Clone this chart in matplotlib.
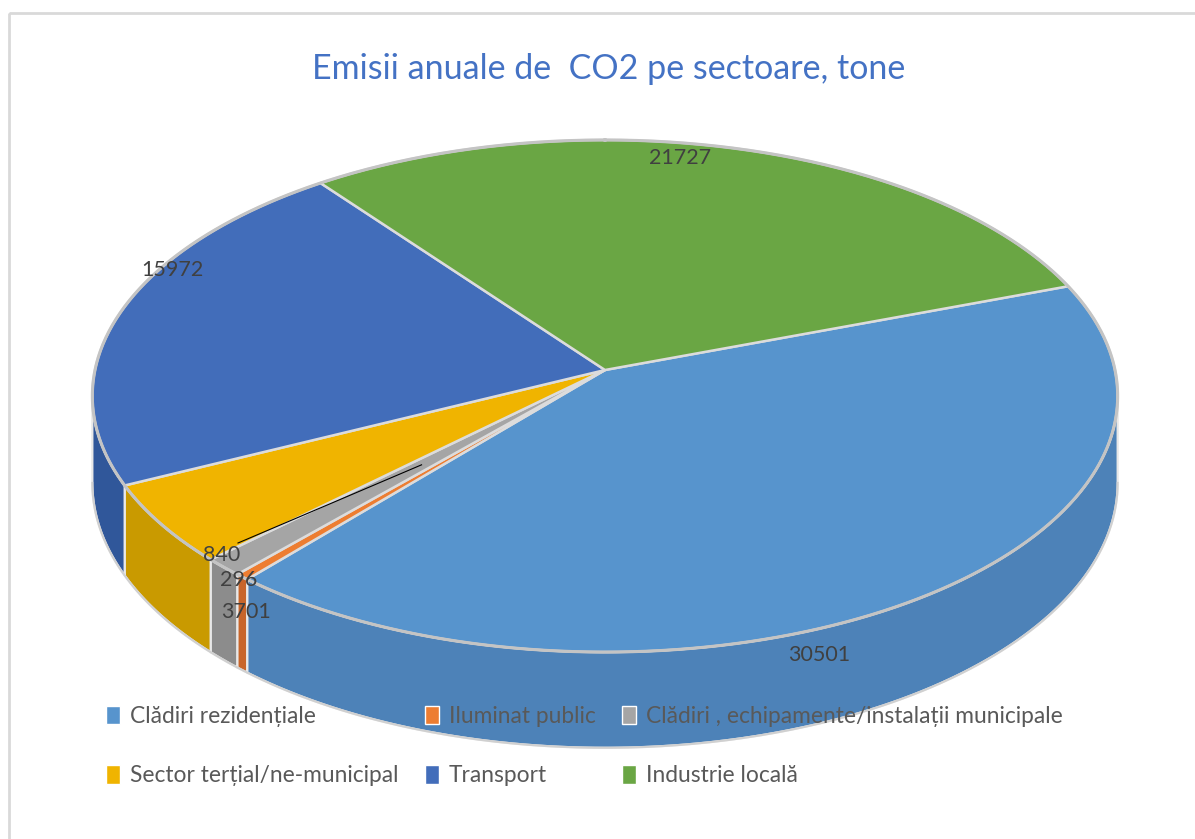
import numpy as np
import matplotlib.pyplot as plt
from matplotlib.patches import Polygon, Patch, Rectangle

plt.rcParams['font.family'] = ['Lato', 'DejaVu Sans']

# data
sectors = ['Clădiri rezidențiale', 'Iluminat public',
           'Clădiri , echipamente/instalații municipale',
           'Sector terțial/ne-municipal', 'Transport', 'Industrie locală']
values = [30501, 296, 840, 3701, 15972, 21727]
top_colors = ['#5794cd', '#ed7d31', '#a5a5a5', '#f0b400', '#426dba', '#6aa644']
side_colors = ['#4d82b8', '#c8652a', '#8c8c8c', '#c99a00', '#30579a', '#56903a']

# where the value labels sit (pixel coords of the figure)
label_pos = [(819, 655), (239, 580), (222, 555), (246, 612), (172, 270), (680, 158)]
label_text = ['30501', '296', '840', '3701', '15972', '21727']

# geometry of the tilted pie (perspective)
cx, cy = 605, 370
A, B = 510, 253.4
a = 0.1016
H = 86
start = 70.0


def proj(theta, r=1.0, depth=0.0):
    t = np.radians(theta)
    u = r * np.sin(t)
    v = -r * np.cos(t)
    w = 1 - a * v
    return cx + A * u / w, cy + (B * v + depth) / w


fig = plt.figure(figsize=(11.95, 8.39), dpi=100)
ax = fig.add_axes([0, 0, 1, 1])
ax.set_xlim(0, 1195)
ax.set_ylim(839, 0)
ax.axis('off')

# chart border
ax.add_patch(Rectangle((9, 13), 1200, 900, fill=False, ec='#d9d9d9', lw=2))

total = float(sum(values))
angles = np.cumsum([0] + [v / total * 360 for v in values]) + start

# visible part of the outer wall
dlt = np.degrees(np.arcsin(a))
vis0, vis1 = 90 + dlt, 270 - dlt

for i in range(len(values)):
    t1, t2 = angles[i], angles[i + 1]
    lo, hi = max(t1, vis0), min(t2, vis1)
    if hi > lo:
        th = np.linspace(lo, hi, 200)
        xt, yt = proj(th)
        xb, yb = proj(th[::-1], depth=H)
        pts = np.column_stack([np.r_[xt, xb], np.r_[yt, yb]])
        ax.add_patch(Polygon(pts, closed=True, fc=side_colors[i], ec='#e8e8e8', lw=1.6, zorder=2))

# bottom rim line
th = np.linspace(vis0, vis1, 400)
xb, yb = proj(th, depth=H)
ax.plot(xb, yb, color='#d0d0d0', lw=1.5, zorder=3)

# top faces
for i in range(len(values)):
    t1, t2 = angles[i], angles[i + 1]
    th = np.linspace(t1, t2, max(int((t2 - t1) * 3), 4))
    xt, yt = proj(th)
    pts = np.column_stack([np.r_[cx, xt], np.r_[cy, yt]])
    ax.add_patch(Polygon(pts, closed=True, fc=top_colors[i], ec='#dcdcdc', lw=1.8, zorder=4))

# outer rim of top face
th = np.linspace(0, 360, 720)
xt, yt = proj(th)
ax.plot(xt, yt, color='#c4c4c4', lw=2.2, zorder=5)

# leader line for the small slice
mid = (angles[2] + angles[3]) / 2
lx, ly = proj(mid, r=0.5)
ax.plot([label_pos[2][0] + 16, lx], [label_pos[2][1] - 12, ly], color='black', lw=0.8, zorder=6)

for (x, y), s in zip(label_pos, label_text):
    ax.text(x, y, s, ha='center', va='center', fontsize=15.5, color='#404040', zorder=7)

ax.text(609, 69, 'Emisii anuale de  CO2 pe sectoare, tone', ha='center', va='center',
        fontsize=24.5, color='#4472c4')

# legend, filled column-wise so rows read like the original
order = [0, 3, 1, 4, 2, 5]
handles = [Patch(fc=top_colors[k], ec='white', lw=1) for k in order]
labels = [sectors[k] for k in order]
leg = ax.legend(handles, labels, ncol=3, loc='upper left', bbox_to_anchor=(86, 685),
                bbox_transform=ax.transData, frameon=False, fontsize=16.4,
                handlelength=0.6, handleheight=0.9, handletextpad=0.45,
                columnspacing=1.15, labelspacing=1.68, labelcolor='#595959')
leg.set_zorder(8)

fig.savefig('out.png', dpi=100)
